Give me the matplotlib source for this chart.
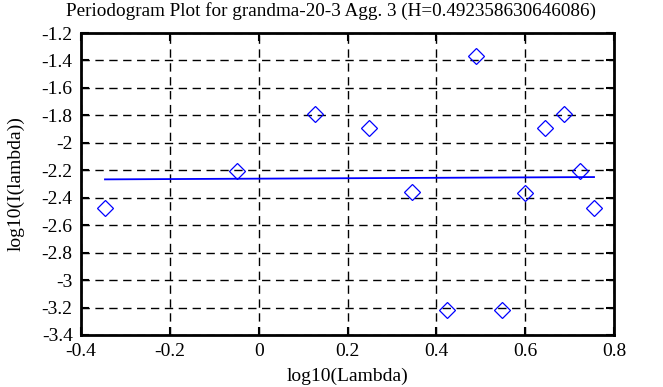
import matplotlib.pyplot as plt
import numpy as np

# periodogram points
log_lambda = [-0.346, -0.049, 0.127, 0.248, 0.345, 0.424, 0.489,
              0.548, 0.600, 0.645, 0.687, 0.723, 0.755]
log_I = [-2.475, -2.205, -1.790, -1.892, -2.358, -3.217, -1.368,
         -3.217, -2.365, -1.892, -1.790, -2.205, -2.475]

# fitted line, slope = 1 - 2H
H = 0.492358630646086
fit_x = [-0.346, 0.755]
fit_y = [-2.261 + (1 - 2 * H) * x for x in fit_x]

plt.rcParams['font.family'] = ['Liberation Serif', 'DejaVu Serif']

fig = plt.figure(figsize=(6.63, 3.87), dpi=100)
ax = fig.add_axes([81 / 663, 1 - 335 / 387, 533 / 663, 302 / 387])

ax.plot(log_lambda, log_I, linestyle='none', marker='D', markersize=8,
        markerfacecolor='none', markeredgecolor='blue', markeredgewidth=0.9)
ax.plot(fit_x, fit_y, color='blue', linewidth=1.3)

ax.set_xlim(-0.4, 0.8)
ax.set_ylim(-3.4, -1.2)
ax.set_xticks(np.arange(-0.4, 0.81, 0.2))
ax.set_yticks(np.arange(-3.4, -1.19, 0.2))
ax.set_xticklabels(['-0.4', '-0.2', '0', '0.2', '0.4', '0.6', '0.8'])
ax.set_yticklabels(['-3.4', '-3.2', '-3', '-2.8', '-2.6', '-2.4', '-2.2',
                    '-2', '-1.8', '-1.6', '-1.4', '-1.2'])
ax.grid(True, color='black', linestyle=(0, (6, 4)), linewidth=1)
ax.tick_params(direction='in', top=True, right=True, length=6, width=1.5,
               labelsize=14, pad=6)
for sp in ax.spines.values():
    sp.set_linewidth(2)

fig.suptitle('Periodogram Plot for grandma-20-3 Agg. 3 (H=0.492358630646086)',
             fontsize=13.8, x=0.5, y=0.995, va='top')
ax.set_xlabel('log10(Lambda)', fontsize=14, labelpad=5)
ax.set_ylabel('log10(I(lambda))', fontsize=14, labelpad=12)

fig.savefig('out.png', dpi=100)
